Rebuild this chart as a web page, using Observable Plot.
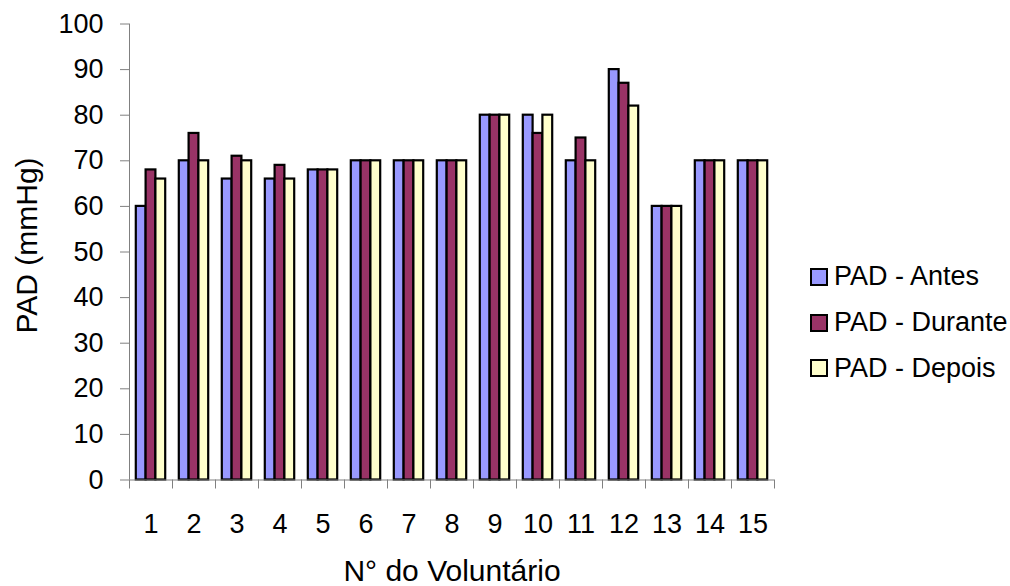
<!DOCTYPE html>
<html>
<head>
<meta charset="utf-8">
<script src="https://cdn.jsdelivr.net/npm/d3@7"></script>
<script src="https://cdn.jsdelivr.net/npm/@observablehq/plot@0.6"></script>
<style>
  body { margin: 0; background: #fff; font-family: "Liberation Sans", Arial, sans-serif; }
  #wrap { position: relative; width: 1010px; height: 586px; }
  #legend { position: absolute; left: 810px; top: 254px; }
  .row { display: flex; align-items: center; height: 45.8px; font-size: 27px; color: #000; line-height: 1; }
  .sw { width: 14px; height: 14px; border: 2px solid #000; margin-right: 6px; flex: none; }
</style>
</head>
<body>
<div id="wrap"><div id="legend"></div></div>
<script>
const voluntarios = [1, 2, 3, 4, 5, 6, 7, 8, 9, 10, 11, 12, 13, 14, 15];
const padAntes   = [60, 70, 66, 66, 68, 70, 70, 70, 80, 80, 70, 90, 60, 70, 70];
const padDurante = [68, 76, 71, 69, 68, 70, 70, 70, 80, 76, 75, 87, 60, 70, 70];
const padDepois  = [66, 70, 70, 66, 68, 70, 70, 70, 80, 80, 70, 82, 60, 70, 70];
const seriesNames = ["PAD - Antes", "PAD - Durante", "PAD - Depois"];
const yTicks = [0, 10, 20, 30, 40, 50, 60, 70, 80, 90, 100];
const yTitle = "PAD (mmHg)";
const xTitle = "N° do Voluntário";

const seriesValues = [padAntes, padDurante, padDepois];
const colors = ["#9999FF", "#993366", "#FFFFCC"];
const insets = [[6.8, 26.4], [16.6, 16.6], [26.4, 6.8]];
const boundaries = [voluntarios[0] - 0.5, ...voluntarios.map(v => v + 0.5)];

const barMarks = seriesValues.map((vals, k) =>
  Plot.rectY(voluntarios, {
    x1: d => d - 0.5,
    x2: d => d + 0.5,
    y1: 0,
    y2: (d, i) => vals[i],
    fill: colors[k],
    stroke: "#000",
    strokeWidth: 2.2,
    insetLeft: insets[k][0],
    insetRight: insets[k][1]
  })
);

const chart = Plot.plot({
  width: 1010,
  height: 586,
  marginLeft: 129,
  marginRight: 236,
  marginTop: 23.5,
  marginBottom: 106.5,
  style: { fontFamily: "'Liberation Sans', Arial, sans-serif", fontSize: "27px", color: "#000", background: "#fff" },
  x: { domain: [boundaries[0], boundaries[boundaries.length - 1]] },
  y: { domain: [0, 100] },
  marks: [
    ...barMarks,
    Plot.ruleY([0], { stroke: "#808080" }),
    Plot.ruleX([boundaries[0]], { stroke: "#808080" }),
    Plot.axisY({ ticks: yTicks, tickSize: 9, tickFormat: () => "", color: "#808080", label: null }),
    Plot.axisY({ ticks: yTicks, tickSize: 0, tickPadding: 26, fontSize: 27, label: null }),
    Plot.axisX({ ticks: boundaries, tickSize: 9, tickFormat: () => "", color: "#808080", label: null }),
    Plot.axisX({ ticks: voluntarios, tickSize: 0, tickPadding: 34, fontSize: 27, label: null }),
    Plot.text([yTitle], { text: d => d, frameAnchor: "left", rotate: -90, dx: -102.5, dy: -6.5, fontSize: 30, textAnchor: "middle", lineAnchor: "middle" }),
    Plot.text([xTitle], { text: d => d, frameAnchor: "bottom", dy: 91, fontSize: 30, textAnchor: "middle", lineAnchor: "middle" })
  ]
});

const wrap = document.getElementById("wrap");
wrap.insertBefore(chart, wrap.firstChild);

const legend = document.getElementById("legend");
seriesNames.forEach((name, k) => {
  const row = document.createElement("div");
  row.className = "row";
  const sw = document.createElement("span");
  sw.className = "sw";
  sw.style.background = colors[k];
  const label = document.createElement("span");
  label.textContent = name;
  row.appendChild(sw);
  row.appendChild(label);
  legend.appendChild(row);
});
</script>
</body>
</html>
